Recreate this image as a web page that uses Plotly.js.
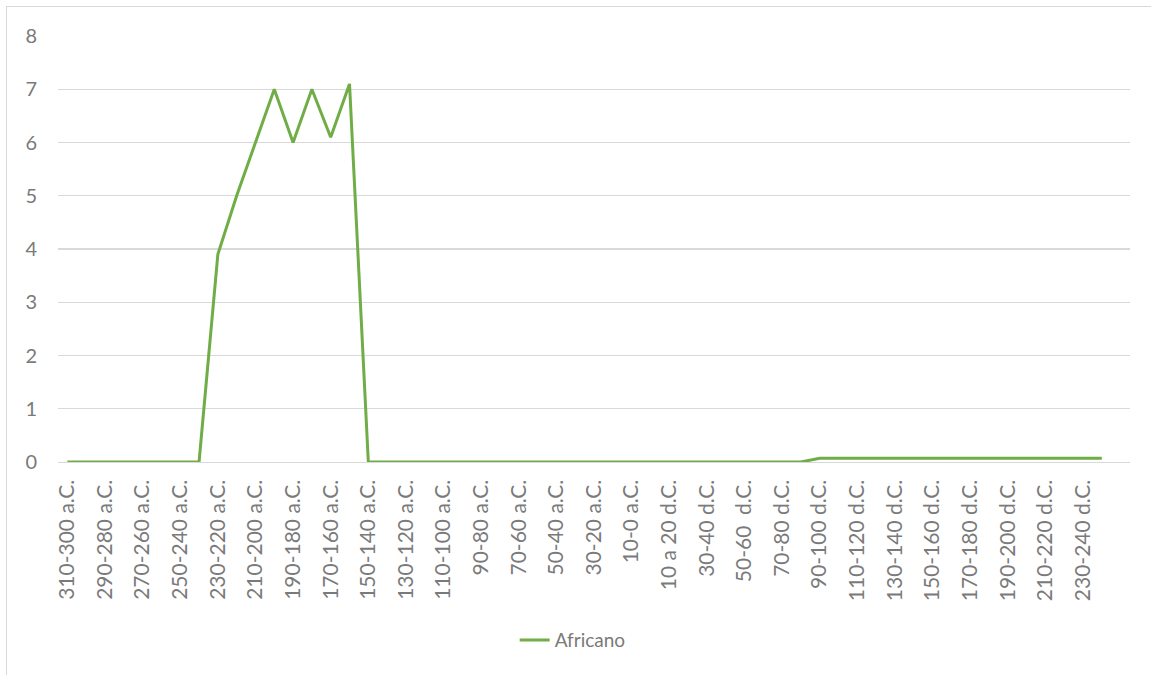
<!DOCTYPE html>
<html>
<head>
<meta charset="utf-8">
<script src="https://cdn.plot.ly/plotly-3.0.1.min.js"></script>
<style>
  html, body { margin: 0; padding: 0; background: #fff; overflow: hidden; }
  #frame { position: absolute; left: 6px; top: 6px; width: 1160px; height: 690px;
           border: 1.5px solid #d9d9d9; pointer-events: none; }
  #chart { position: absolute; left: 0; top: 0; width: 1151px; height: 675px; }
</style>
</head>
<body>
<div id="chart"></div>
<div id="frame"></div>
<script>
  // 10-year periods, a.C. then d.C.
  var periods = [
    "310-300 a.C.", "300-290 a.C.", "290-280 a.C.", "280-270 a.C.", "270-260 a.C.",
    "260-250 a.C.", "250-240 a.C.", "240-230 a.C.", "230-220 a.C.", "220-210 a.C.",
    "210-200 a.C.", "200-190 a.C.", "190-180 a.C.", "180-170 a.C.", "170-160 a.C.",
    "160-150 a.C.", "150-140 a.C.", "140-130 a.C.", "130-120 a.C.", "120-110 a.C.",
    "110-100 a.C.", "100-90 a.C.", "90-80 a.C.", "80-70 a.C.", "70-60 a.C.",
    "60-50 a.C.", "50-40 a.C.", "40-30 a.C.", "30-20 a.C.", "20-10 a.C.",
    "10-0 a.C.", "0-10 d.C.", "10 a 20 d.C.", "20-30 d.C.", "30-40 d.C.",
    "40-50 d.C.", "50-60  d.C.", "60-70 d.C.", "70-80 d.C.", "80-90 d.C.",
    "90-100 d.C.", "100-110 d.C.", "110-120 d.C.", "120-130 d.C.", "130-140 d.C.",
    "140-150 d.C.", "150-160 d.C.", "160-170 d.C.", "170-180 d.C.", "180-190 d.C.",
    "190-200 d.C.", "200-210 d.C.", "210-220 d.C.", "220-230 d.C.", "230-240 d.C.",
    "240-250 d.C."
  ];

  var africano = [
    0, 0, 0, 0, 0, 0, 0, 0, 3.9, 5,
    6, 7, 6, 7, 6.1, 7.1, 0, 0, 0, 0,
    0, 0, 0, 0, 0, 0, 0, 0, 0, 0,
    0, 0, 0, 0, 0, 0, 0, 0, 0, 0,
    0.07, 0.07, 0.07, 0.07, 0.07, 0.07, 0.07, 0.07, 0.07, 0.07,
    0.07, 0.07, 0.07, 0.07, 0.07, 0.07
  ];

  var yTicks = [0, 1, 2, 3, 4, 5, 6, 7, 8];

  // only every other period gets a label, as in the original
  var shownTicks = periods.filter(function (p, i) { return i % 2 === 0; });

  var font = "Lato, 'Open Sans', sans-serif";
  var grey = "#7a7a7a";

  var traces = [{
    x: periods,
    y: africano,
    type: "scatter",
    mode: "lines",
    name: "Africano",
    line: { color: "#70ad47", width: 3 },
    hoverinfo: "x+y"
  }];

  var layout = {
    width: 1151, height: 675,
    paper_bgcolor: "rgba(0,0,0,0)", plot_bgcolor: "#fff",
    font: { family: font, color: grey, size: 19 },
    margin: { l: 58, r: 21, t: 36, b: 213 },
    showlegend: true,
    legend: {
      orientation: "h", x: 0.426, xanchor: "left", y: -0.418, yanchor: "middle",
      font: { family: font, color: grey, size: 19 }, bgcolor: "rgba(0,0,0,0)"
    },
    xaxis: {
      type: "category",
      range: [-0.5, 56.5],
      tickmode: "array", tickvals: shownTicks, ticktext: shownTicks,
      tickangle: -90, ticks: "", ticklabelstandoff: 8,
      tickfont: { family: font, color: grey, size: 21 },
      showgrid: false, showline: true, linecolor: "#d9d9d9", linewidth: 1.3,
      zeroline: false, fixedrange: true
    },
    yaxis: {
      range: [0, 8],
      tickmode: "array", tickvals: yTicks,
      ticks: "", ticklabelstandoff: 20,
      tickfont: { family: font, color: grey, size: 20 },
      showgrid: true, gridcolor: "#d9d9d9", gridwidth: 1.3,
      zeroline: false, showline: false, fixedrange: true
    }
  };

  Plotly.newPlot("chart", traces, layout, { displayModeBar: false, staticPlot: true });
</script>
</body>
</html>
